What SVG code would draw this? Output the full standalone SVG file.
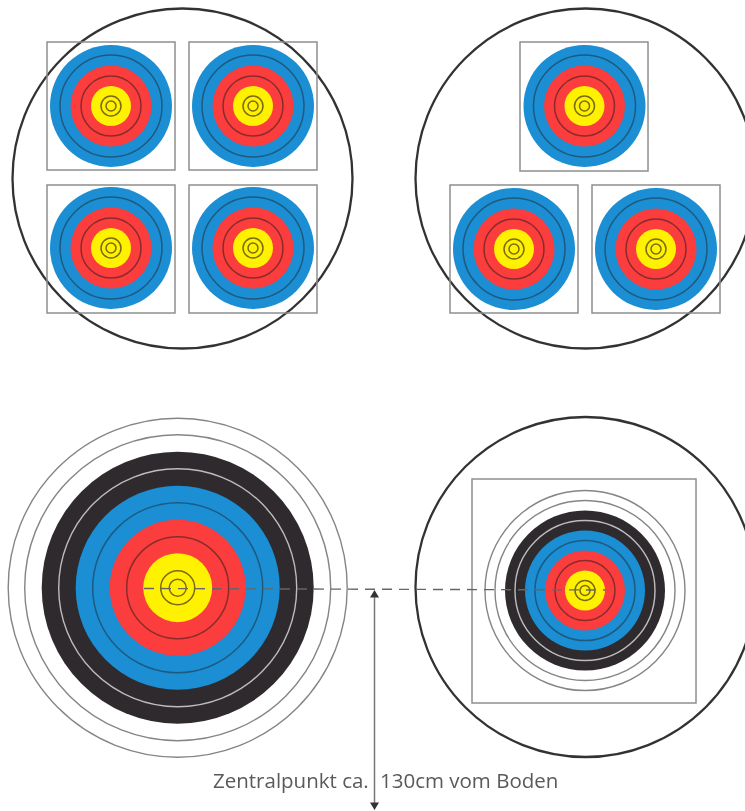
<svg xmlns="http://www.w3.org/2000/svg" xmlns:xlink="http://www.w3.org/1999/xlink" width="745" height="811" viewBox="0 0 745 811">
<style>
.big{fill:none;stroke:#333;stroke-width:2.3}
.sq{fill:none;stroke:#8f8f8f;stroke-width:1.5}
.y{fill:#fff200}.r{fill:#fb3c3c}.b{fill:#1a8ed3}.k{fill:#2d2c2d}
.ln{fill:none;stroke:#1d5a80;stroke-width:1.5}
.ld{fill:none;stroke:#8a2c2c;stroke-width:1.5}
.lye{fill:none;stroke:#7a6a10;stroke-width:1.5}
.lw{fill:none;stroke:#bdbdbd;stroke-width:1.4}
.lo{fill:none;stroke:#858585;stroke-width:1.4}
.conn{fill:none;stroke:#777;stroke-width:1.5}
.dash{stroke-dasharray:10 7;fill:none;stroke:#666;stroke-width:1.4}
text{font-family:"Open Sans","Noto Sans","Liberation Sans",sans-serif;font-size:20.5px;fill:#5a5a5a}
</style>
<defs>
<filter id="soft" x="0" y="0" width="100%" height="100%" filterUnits="userSpaceOnUse"><feGaussianBlur stdDeviation="0.45"/></filter>
<g id="t3">
<circle class="b" r="61"/><circle class="ln" r="51"/>
<circle class="r" r="40.5"/><circle class="ld" r="30"/>
<circle class="y" r="20"/><circle class="lye" r="10"/><circle class="lye" r="5"/>
</g>
<marker id="ah" markerWidth="9" markerHeight="8" refX="7" refY="4" orient="auto-start-reverse" markerUnits="userSpaceOnUse"><path d="M0 0L7.500 4L0 8Z" fill="#333"/></marker>
</defs>
<rect width="745" height="811" fill="#fff"/>
<g filter="url(#soft)">
<g id="face-1"><circle class="big" cx="182.500" cy="178.500" r="170"/></g>
<g id="face-2"><circle class="big" cx="585.500" cy="178.500" r="170"/></g>
<g id="face-3"><circle class="big" cx="585.500" cy="587" r="170"/></g>
<g id="target-1"><rect class="sq" x="47" y="42" width="128" height="128"/><use xlink:href="#t3" href="#t3" x="111" y="106"/></g>
<g id="target-2"><rect class="sq" x="189" y="42" width="128" height="128"/><use xlink:href="#t3" href="#t3" x="253" y="106"/></g>
<g id="target-3"><rect class="sq" x="47" y="185" width="128" height="128"/><use xlink:href="#t3" href="#t3" x="111" y="248"/></g>
<g id="target-4"><rect class="sq" x="189" y="185" width="128" height="128"/><use xlink:href="#t3" href="#t3" x="253" y="248"/></g>
<g id="target-5"><rect class="sq" x="520" y="42" width="128" height="129"/><use xlink:href="#t3" href="#t3" x="584.500" y="106"/></g>
<g id="target-6"><rect class="sq" x="450" y="185" width="128" height="128"/><use xlink:href="#t3" href="#t3" x="514" y="249"/></g>
<g id="target-7"><rect class="sq" x="592" y="185" width="128" height="128"/><use xlink:href="#t3" href="#t3" x="656" y="249"/></g>
<g id="target-large">
<circle class="lo" cx="177.700" cy="587.700" r="169.500"/><circle class="lo" cx="177.700" cy="587.700" r="153"/>
<circle class="k" cx="177.700" cy="587.700" r="136"/><circle class="lw" cx="177.700" cy="587.700" r="119"/>
<circle class="b" cx="177.700" cy="587.700" r="102"/><circle class="ln" cx="177.700" cy="587.700" r="85"/>
<circle class="r" cx="177.700" cy="587.700" r="68"/><circle class="ld" cx="177.700" cy="587.700" r="51"/>
<circle class="y" cx="177.700" cy="587.700" r="34.500"/><circle class="lye" cx="177.700" cy="587.700" r="17"/><circle class="lye" cx="177.700" cy="587.700" r="8.500"/>
</g>
<g id="target-small">
<rect class="sq" x="472" y="479" width="224" height="224"/>
<circle class="lo" cx="585" cy="590.500" r="100"/><circle class="lo" cx="585" cy="590.500" r="90"/>
<circle class="k" cx="585" cy="590.500" r="80"/><circle class="lw" cx="585" cy="590.500" r="70"/>
<circle class="b" cx="585" cy="590.500" r="60"/><circle class="ln" cx="585" cy="590.500" r="50"/>
<circle class="r" cx="585" cy="590.500" r="40"/><circle class="ld" cx="585" cy="590.500" r="30"/>
<circle class="y" cx="585" cy="590.500" r="20"/><circle class="lye" cx="585" cy="590.500" r="10"/><circle class="lye" cx="585" cy="590.500" r="5"/>
</g>
<g id="connectors">
<path class="dash" d="M144 588.500L605 590"/>
<path class="conn" d="M374.500 597V803"/>
<path d="M374.500 590L379 597.500H370ZM374.500 810L370 802.500H379Z" fill="#333"/>
</g>
<g id="label"><text x="213" y="788">Zentralpunkt ca.<tspan x="380">130cm vom Boden</tspan></text></g>
</g>
</svg>
